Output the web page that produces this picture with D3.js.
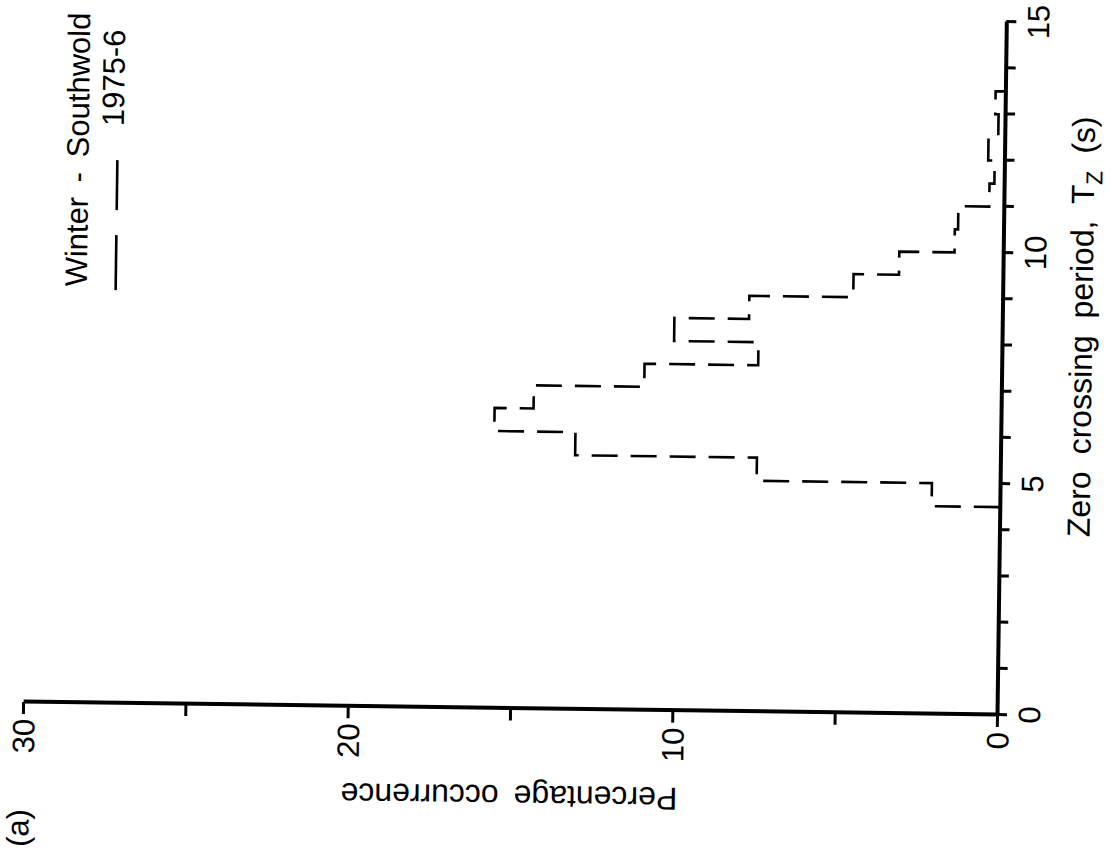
<!DOCTYPE html>
<html>
<head>
<meta charset="utf-8">
<script src="https://cdn.jsdelivr.net/npm/d3@7"></script>
<style>
  body { margin: 0; background: #fff; }
  text { font-family: "Liberation Sans", Arial, sans-serif; fill: #000; }
</style>
</head>
<body>
<div id="chart"></div>
<script>
// histogram of Tz, 0.5 s bins
const binStarts = [4.5, 5.0, 5.5, 6.0, 6.5, 7.0, 7.5, 8.0, 8.5, 9.0, 9.5, 10.0, 10.5, 11.0, 11.5, 12.0, 12.5, 13.0];
const binWidth = 0.5;
const percentages = [2.1, 7.5, 13.1, 15.6, 14.4, 11.0, 7.5, 10.1, 7.8, 4.6, 3.2, 1.5, 1.4, 0.45, 0.3, 0.5, 0.2, 0.3];

const periodTicks = [0, 1, 2, 3, 4, 5, 6, 7, 8, 9, 10, 11, 12, 13, 14, 15];
const periodLabels = [0, 5, 10, 15];
const pctTicks = [0, 5, 10, 15, 20, 25, 30];
const pctLabels = [0, 10, 20, 30];

const seriesName = "1975-6";
const title = "Winter - Southwold";

const W = 1111, H = 853;
const svg = d3.select("#chart").append("svg")
  .attr("width", W).attr("height", H);
svg.append("rect").attr("width", W).attr("height", H).attr("fill", "#fff");

// the scanned figure is turned on its side, slightly skewed
const g = svg.append("g")
  .attr("transform", "translate(997,715) rotate(-89.23)");

const x = d3.scaleLinear().domain([0, 15]).range([0, 693]);
const y = d3.scaleLinear().domain([0, 30]).range([0, -974]);

// axes
const xAxis = d3.axisBottom(x)
  .tickValues(periodTicks)
  .tickSize(10)
  .tickSizeOuter(0)
  .tickPadding(11)
  .tickFormat(d => periodLabels.includes(d) ? d : "");
const yAxis = d3.axisLeft(y)
  .tickValues(pctTicks)
  .tickSize(12)
  .tickSizeOuter(0)
  .tickPadding(5)
  .tickFormat(d => pctLabels.includes(d) ? d : "");

const gx = g.append("g").call(xAxis);
const gy = g.append("g").call(yAxis);
[gx, gy].forEach(a => {
  a.select(".domain").attr("stroke", "#000").attr("stroke-width", 4);
  a.selectAll(".tick line").attr("stroke", "#000").attr("stroke-width", 3);
  a.selectAll(".tick text").style("font-size", "31px").attr("fill", "#000");
});
gy.selectAll(".tick text").attr("dy", "0.36em");

// dashed histogram outline
const pts = [[binStarts[0], 0]];
binStarts.forEach((b, i) => {
  pts.push([b, percentages[i]]);
  pts.push([b + binWidth, percentages[i]]);
});
pts.push([binStarts[binStarts.length - 1] + binWidth, 0]);

const line = d3.line().x(d => x(d[0])).y(d => y(d[1]));
g.append("path")
  .attr("d", line(pts))
  .attr("fill", "none")
  .attr("stroke", "#000")
  .attr("stroke-width", 2.6)
  .attr("stroke-dasharray", "26,13");

// axis titles
const xt = g.append("text")
  .attr("x", 179).attr("y", 90)
  .style("font-size", "32px")
  .style("word-spacing", "8px");
xt.append("tspan").text("Zero crossing period, T");
xt.append("tspan").attr("dy", 8).style("font-size", "23px").text("Z");
xt.append("tspan").attr("dy", -8).text(" (s)");

g.append("text")
  .attr("transform", `translate(-77,${y(15)}) rotate(-90)`)
  .attr("text-anchor", "middle")
  .style("font-size", "32px")
  .style("word-spacing", "6px")
  .text("Percentage occurrence");

g.append("text")
  .attr("x", -145).attr("y", -967)
  .style("font-size", "31px")
  .text("(a)");

// legend
g.append("text")
  .attr("x", 690).attr("y", -916)
  .attr("text-anchor", "end")
  .style("font-size", "31px")
  .style("word-spacing", "6px")
  .text(title);
g.append("line")
  .attr("x1", 413).attr("x2", 543)
  .attr("y1", -887).attr("y2", -887)
  .attr("stroke", "#000").attr("stroke-width", 2.6)
  .attr("stroke-dasharray", "55,25");
g.append("text")
  .attr("x", 577).attr("y", -881)
  .style("font-size", "31px")
  .text(seriesName);
</script>
</body>
</html>
